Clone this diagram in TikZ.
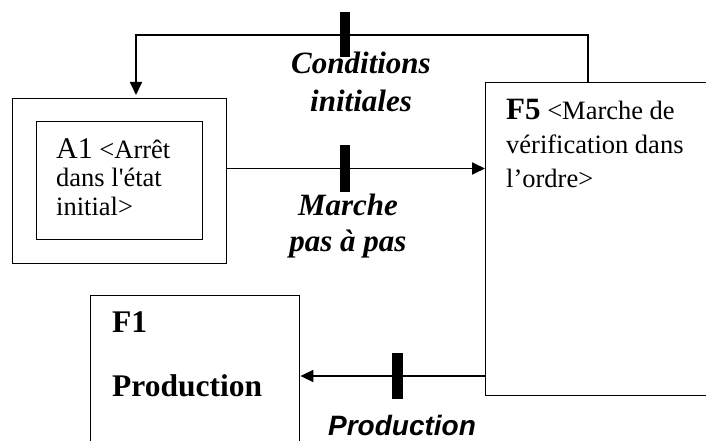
\documentclass[tikz,border=0pt]{standalone}
\usepackage{fontspec}
\setmainfont{Liberation Serif}
\newfontfamily\rawserif{Liberation Serif}
\newfontfamily\arialfont{Liberation Sans}
\usetikzlibrary{arrows.meta,calc}
\begin{document}
\begin{tikzpicture}[x=1pt,y=-1pt,
  box/.style={draw,line width=1.4pt,inner sep=0pt,anchor=north west},
  bar/.style={fill=black,inner sep=0pt,minimum width=10pt,minimum height=46pt},
  flow/.style={line width=1.8pt,-{Triangle[length=13pt,width=12pt]}},
  lab/.style={font=\fontsize{31}{38}\selectfont\bfseries\itshape,align=center,inner sep=0pt,anchor=north},
  txt/.style={inner sep=0pt,anchor=north west,align=left}]
\useasboundingbox (0,0) rectangle (706,441);
\clip (0,0) rectangle (706,441);
% boxes
\node[box,minimum width=214pt,minimum height=165pt] (a1o) at (12,98) {};
\node[box,minimum width=166pt,minimum height=118pt] (a1i) at (36,121) {};
\node[box,minimum width=260pt,minimum height=313pt] (f5) at (485,82) {};
\node[box,minimum width=209pt,minimum height=180pt] (f1) at (90,295) {};
% box texts
\node[txt,font=\rawserif\fontsize{26.5}{28.5}\selectfont] (a1t) at (56,138)
  {{\fontsize{30}{28.5}\selectfont A1} <Arrêt\\dans l'état\\initial>};
\node[txt,font=\fontsize{26.5}{34}\selectfont] (f5t) at (506,99)
  {{\fontsize{31}{34}\selectfont\bfseries F5} <Marche de\\vérification dans\\l’ordre>};
\node[txt,font=\fontsize{31.5}{64}\selectfont\bfseries] (f1t) at (112,312)
  {F1\\Production};
% transitions
\node[bar,minimum height=45pt] (t1) at (345,34.5) {};
\node[bar,minimum height=47pt] (t2) at (345,168.5) {};
\node[bar,minimum width=11pt] (t3) at (397.5,376) {};
% connectors
\coordinate (r) at (588,35);
\coordinate (l) at (136,35);
\draw[flow] (r |- f5.north) -- (r) -- (l) -- ($(l |- a1o.north)+(0,-3)$);
\draw[flow] (a1o.east |- t2) -- (f5.west |- t2);
\draw[flow] (f5.west |- t3) -- (f1.east |- t3);
% labels
\node[lab] (l1) at (361,52) {Conditions\\initiales};
\node[lab,font=\fontsize{31}{36}\selectfont\bfseries\itshape] (l2) at (348,194) {Marche\\pas à pas};
\node[inner sep=0pt,anchor=base,font=\arialfont\fontsize{28}{30}\selectfont\bfseries\itshape] (l3) at (402,435) {Production};
\end{tikzpicture}
\end{document}
